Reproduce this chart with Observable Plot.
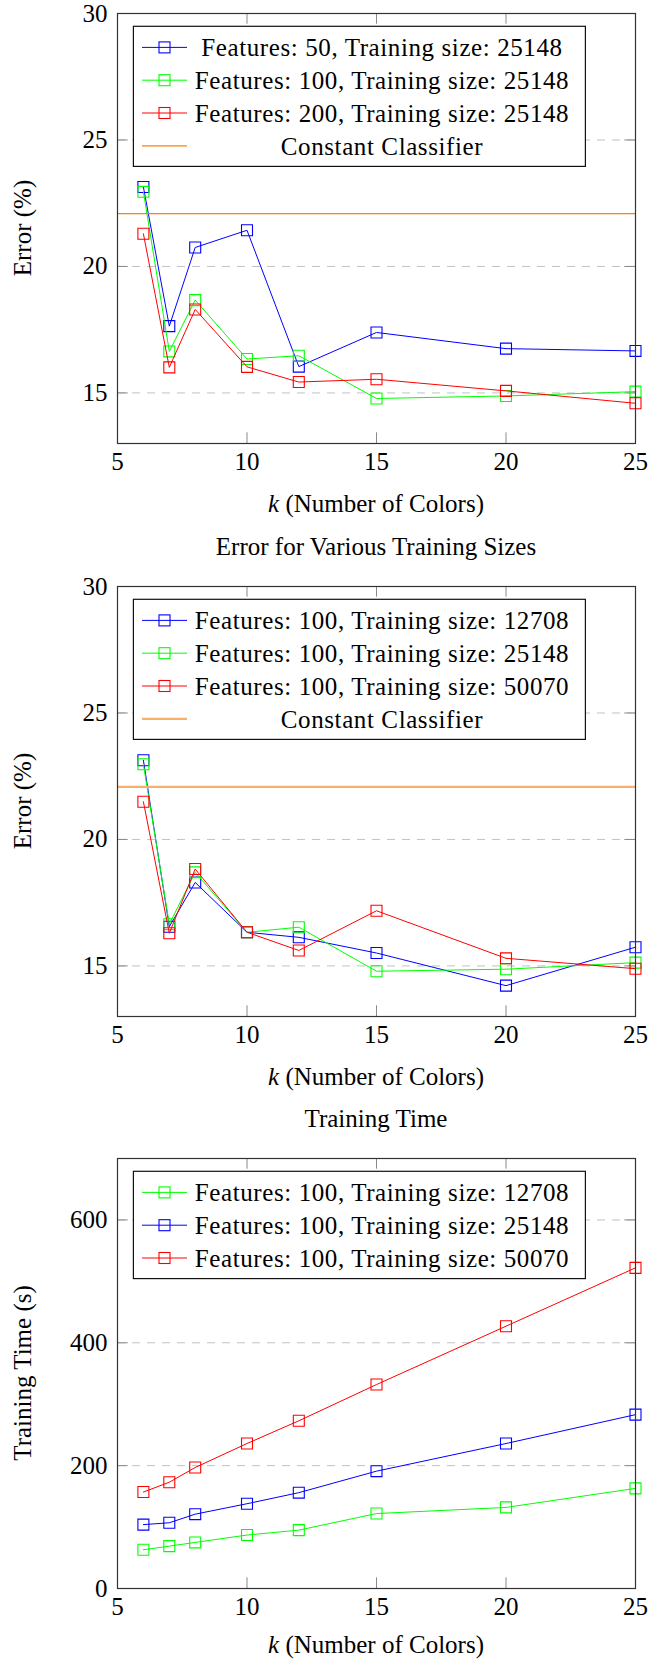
<!DOCTYPE html>
<html><head><meta charset="utf-8">
<script src="https://cdn.jsdelivr.net/npm/d3@7"></script>
<script src="https://cdn.jsdelivr.net/npm/@observablehq/plot@0.6"></script>
<style>
body{margin:0;background:#fff;}
#root{position:relative;width:658px;height:1659px;font-family:"Liberation Serif","Times New Roman",Times,"DejaVu Serif",serif;color:#000;}
#root svg, #root svg text{font-family:"Liberation Serif","Times New Roman",Times,"DejaVu Serif",serif !important;}
.title{position:absolute;left:117px;width:518px;text-align:center;font-size:25px;line-height:30px;}
.chart{position:absolute;left:0;}
</style></head><body><div id="root"></div>
<script>
// ---- data ----
const kValues = [6, 7, 8, 10, 12, 15, 20, 25];
const xTicks = [5, 10, 15, 20, 25];

// Chart 1: error for various feature counts (training size 25148)
const errFeat50 = [23.14, 17.64, 20.75, 21.43, 16.04, 17.39, 16.75, 16.66];
const errFeat100 = [22.95, 16.64, 18.67, 16.34, 16.47, 14.78, 14.88, 15.05];
const errFeat200 = [21.29, 16.01, 18.30, 16.03, 15.43, 15.54, 15.08, 14.59];
const constErr1 = 22.09;
const errTicks = [15, 20, 25, 30];
const errGrid = [15, 20, 25];

// Chart 2: error for various training sizes (100 features)
const errSize12708 = [23.13, 16.55, 18.30, 16.33, 16.13, 15.51, 14.22, 15.74];
const errSize25148 = [22.97, 16.65, 18.70, 16.33, 16.53, 14.79, 14.87, 15.13];
const errSize50070 = [21.49, 16.29, 18.83, 16.33, 15.61, 17.18, 15.30, 14.89];
const constErr2 = 22.08;

// Chart 3: training time (s)
const time12708 = [63, 69, 75, 87, 95, 122, 132, 163];
const time25148 = [104, 107, 121, 138, 156, 191, 236, 283];
const time50070 = [157, 173, 197, 236, 273, 332, 427, 522];
const timeTicks = [0, 200, 400, 600];
const timeGrid = [200, 400, 600];

const labels1 = ["Features: 50, Training size: 25148", "Features: 100, Training size: 25148", "Features: 200, Training size: 25148", "Constant Classifier"];
const labels2 = ["Features: 100, Training size: 12708", "Features: 100, Training size: 25148", "Features: 100, Training size: 50070", "Constant Classifier"];
const labels3 = ["Features: 100, Training size: 12708", "Features: 100, Training size: 25148", "Features: 100, Training size: 50070"];
const title2 = "Error for Various Training Sizes";
const title3 = "Training Time";

// ---- drawing ----
const FONT = '"Liberation Serif","Times New Roman",Times,"DejaVu Serif",serif';
const BLUE = "#0000ff", GREEN = "#00ff00", RED = "#ff0000";
const root = document.getElementById("root");
const PW = 518, PH = 430, MT = 13, ML = 117, TICK = 10.7;

function makeChart(o) {
  const marks = [
    Plot.ruleY(o.grid, {stroke: "#c2c2c2", strokeDasharray: "8,7", strokeWidth: 1}),
    Plot.ruleX(xTicks, {insetTop: PH - TICK, stroke: "#8a8a8a"}),
    Plot.ruleX(xTicks, {insetBottom: PH - TICK, stroke: "#8a8a8a"}),
    Plot.ruleY(o.yTicks, {insetRight: PW - TICK, stroke: "#8a8a8a"}),
    Plot.ruleY(o.yTicks, {insetLeft: PW - TICK, stroke: "#8a8a8a"})
  ];
  for (const s of o.series) {
    const rows = kValues.map((k, i) => ({k, v: s.values[i]}));
    marks.push(Plot.line(rows, {x: "k", y: "v", stroke: s.color, strokeWidth: 1}));
    marks.push(Plot.dot(rows, {x: "k", y: "v", symbol: "square", r: 6.2, stroke: s.color, fill: "none", strokeWidth: 1.1}));
  }
  if (o.constant != null) marks.push(Plot.ruleY([o.constant], {stroke: o.constColor, strokeWidth: o.constWidth}));
  marks.push(Plot.frame({stroke: "#333", strokeWidth: 1.2}));
  const svg = Plot.plot({
    width: 658, height: o.height,
    marginLeft: ML, marginRight: 658 - ML - PW, marginTop: MT, marginBottom: o.height - MT - PH,
    x: {domain: [5, 25], ticks: xTicks, tickSize: 0, tickPadding: 9, label: null},
    y: {domain: o.yDomain, ticks: o.yTicks, tickSize: 0, tickPadding: 10, label: null},
    style: {fontFamily: FONT, fontSize: "25px", color: "#000", background: "white", fontVariant: "normal"},
    marks
  });
  const s = d3.select(svg);
  s.append("text").attr("transform", `translate(31,${MT + PH / 2}) rotate(-90)`)
    .attr("text-anchor", "middle").attr("font-size", 25).attr("fill", "#000").text(o.yLabel);
  const xl = s.append("text").attr("x", ML + PW / 2).attr("y", MT + PH + o.xLabelGap)
    .attr("text-anchor", "middle").attr("font-size", 25).attr("fill", "#000");
  xl.append("tspan").attr("font-style", "italic").text("k");
  xl.append("tspan").text(" (Number of Colors)");
  // legend
  const lg = s.append("g");
  const n = o.legend.length;
  const boxTop = MT + 13.3, rowH = 32.8, firstRow = MT + 34.4;
  lg.append("rect").attr("x", 133.4).attr("y", boxTop).attr("width", 452)
    .attr("height", (firstRow - boxTop) * 2 + rowH * (n - 1) - 0.5)
    .attr("fill", "white").attr("stroke", "#111").attr("stroke-width", 1.2);
  o.legend.forEach((it, i) => {
    const y = firstRow + i * rowH;
    lg.append("line").attr("x1", 142).attr("x2", 187).attr("y1", y).attr("y2", y)
      .attr("stroke", it.color).attr("stroke-width", it.width || 1);
    if (it.marker) lg.append("rect").attr("x", 164.5 - 5.5).attr("y", y - 5.5).attr("width", 11).attr("height", 11)
      .attr("fill", "none").attr("stroke", it.color).attr("stroke-width", 1.1);
    lg.append("text").attr("x", 382).attr("y", y).attr("dy", "0.35em").attr("text-anchor", "middle")
      .attr("font-size", 25).attr("letter-spacing", "0.6px").attr("fill", "#000").text(it.label);
  });
  const div = document.createElement("div");
  div.className = "chart";
  div.style.top = o.top + "px";
  div.appendChild(svg);
  root.appendChild(div);
}

function addTitle(text, centerY) {
  const d = document.createElement("div");
  d.className = "title";
  d.style.top = (centerY - 15) + "px";
  d.textContent = text;
  root.appendChild(d);
}

makeChart({
  top: 0, height: 520, yDomain: [13, 30], yTicks: errTicks, grid: errGrid, yLabel: "Error (%)", xLabelGap: 69,
  series: [{values: errFeat50, color: BLUE}, {values: errFeat100, color: GREEN}, {values: errFeat200, color: RED}],
  constant: constErr1, constColor: "#ff8000", constWidth: 1.2,
  legend: [
    {label: labels1[0], color: BLUE, marker: true},
    {label: labels1[1], color: GREEN, marker: true},
    {label: labels1[2], color: RED, marker: true},
    {label: labels1[3], color: "#ff8000", width: 1.2}
  ]
});
addTitle(title2, 547);
makeChart({
  top: 573, height: 520, yDomain: [13, 30], yTicks: errTicks, grid: errGrid, yLabel: "Error (%)", xLabelGap: 69,
  series: [{values: errSize12708, color: BLUE}, {values: errSize25148, color: GREEN}, {values: errSize50070, color: RED}],
  constant: constErr2, constColor: "#f9b06a", constWidth: 2.2,
  legend: [
    {label: labels2[0], color: BLUE, marker: true},
    {label: labels2[1], color: GREEN, marker: true},
    {label: labels2[2], color: RED, marker: true},
    {label: labels2[3], color: "#f9b06a", width: 2.2}
  ]
});
addTitle(title3, 1119);
makeChart({
  top: 1145, height: 514, yDomain: [0, 700], yTicks: timeTicks, grid: timeGrid, yLabel: "Training Time (s)", xLabelGap: 65,
  series: [{values: time12708, color: GREEN}, {values: time25148, color: BLUE}, {values: time50070, color: RED}],
  constant: null,
  legend: [
    {label: labels3[0], color: GREEN, marker: true},
    {label: labels3[1], color: BLUE, marker: true},
    {label: labels3[2], color: RED, marker: true}
  ]
});
</script></body></html>
